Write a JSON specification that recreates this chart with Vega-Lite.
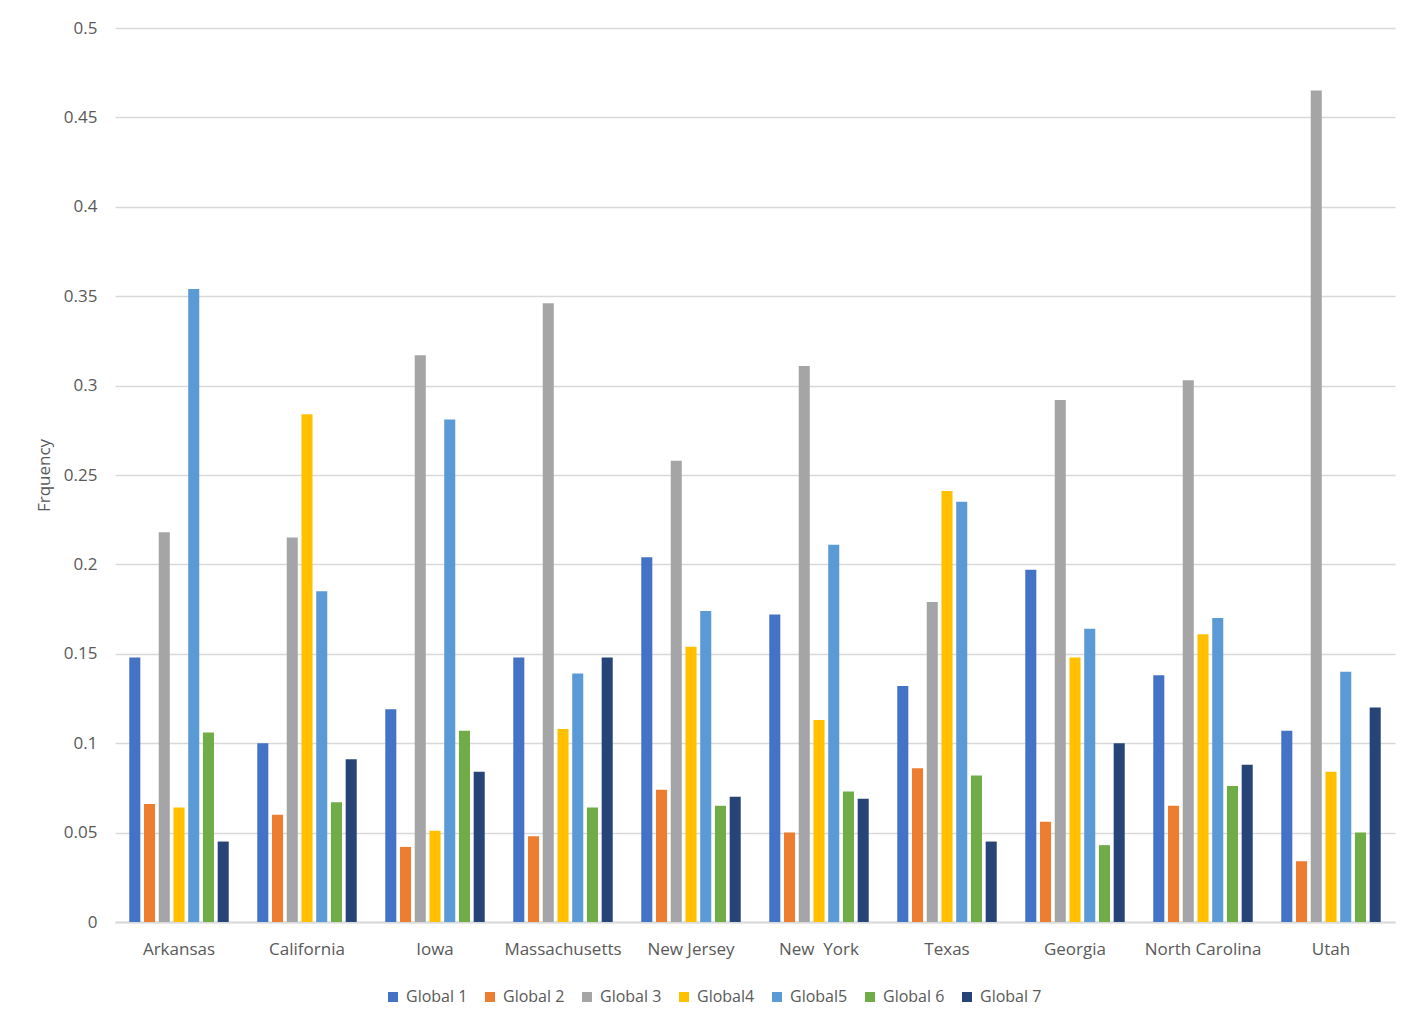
{
  "$schema": "https://vega.github.io/schema/vega-lite/v6.json",
  "width": 1280,
  "height": 894,
  "autosize": {"type": "none"},
  "padding": {"left": 115, "top": 28, "right": 28, "bottom": 110},
  "background": "white",
  "config": {
    "view": {"stroke": null},
    "font": "Open Sans",
    "axis": {"labelFont": "Open Sans", "titleFont": "Open Sans", "labelColor": "#595959", "titleColor": "#595959"}
  },
  "datasets": {
    "freq": [
      {"state": "Arkansas", "series": "Global 1", "value": 0.148},
      {"state": "Arkansas", "series": "Global 2", "value": 0.066},
      {"state": "Arkansas", "series": "Global 3", "value": 0.218},
      {"state": "Arkansas", "series": "Global4", "value": 0.064},
      {"state": "Arkansas", "series": "Global5", "value": 0.354},
      {"state": "Arkansas", "series": "Global 6", "value": 0.106},
      {"state": "Arkansas", "series": "Global 7", "value": 0.045},
      {"state": "California", "series": "Global 1", "value": 0.100},
      {"state": "California", "series": "Global 2", "value": 0.060},
      {"state": "California", "series": "Global 3", "value": 0.215},
      {"state": "California", "series": "Global4", "value": 0.284},
      {"state": "California", "series": "Global5", "value": 0.185},
      {"state": "California", "series": "Global 6", "value": 0.067},
      {"state": "California", "series": "Global 7", "value": 0.091},
      {"state": "Iowa", "series": "Global 1", "value": 0.119},
      {"state": "Iowa", "series": "Global 2", "value": 0.042},
      {"state": "Iowa", "series": "Global 3", "value": 0.317},
      {"state": "Iowa", "series": "Global4", "value": 0.051},
      {"state": "Iowa", "series": "Global5", "value": 0.281},
      {"state": "Iowa", "series": "Global 6", "value": 0.107},
      {"state": "Iowa", "series": "Global 7", "value": 0.084},
      {"state": "Massachusetts", "series": "Global 1", "value": 0.148},
      {"state": "Massachusetts", "series": "Global 2", "value": 0.048},
      {"state": "Massachusetts", "series": "Global 3", "value": 0.346},
      {"state": "Massachusetts", "series": "Global4", "value": 0.108},
      {"state": "Massachusetts", "series": "Global5", "value": 0.139},
      {"state": "Massachusetts", "series": "Global 6", "value": 0.064},
      {"state": "Massachusetts", "series": "Global 7", "value": 0.148},
      {"state": "New Jersey", "series": "Global 1", "value": 0.204},
      {"state": "New Jersey", "series": "Global 2", "value": 0.074},
      {"state": "New Jersey", "series": "Global 3", "value": 0.258},
      {"state": "New Jersey", "series": "Global4", "value": 0.154},
      {"state": "New Jersey", "series": "Global5", "value": 0.174},
      {"state": "New Jersey", "series": "Global 6", "value": 0.065},
      {"state": "New Jersey", "series": "Global 7", "value": 0.070},
      {"state": "New \u00a0York", "series": "Global 1", "value": 0.172},
      {"state": "New \u00a0York", "series": "Global 2", "value": 0.050},
      {"state": "New \u00a0York", "series": "Global 3", "value": 0.311},
      {"state": "New \u00a0York", "series": "Global4", "value": 0.113},
      {"state": "New \u00a0York", "series": "Global5", "value": 0.211},
      {"state": "New \u00a0York", "series": "Global 6", "value": 0.073},
      {"state": "New \u00a0York", "series": "Global 7", "value": 0.069},
      {"state": "Texas", "series": "Global 1", "value": 0.132},
      {"state": "Texas", "series": "Global 2", "value": 0.086},
      {"state": "Texas", "series": "Global 3", "value": 0.179},
      {"state": "Texas", "series": "Global4", "value": 0.241},
      {"state": "Texas", "series": "Global5", "value": 0.235},
      {"state": "Texas", "series": "Global 6", "value": 0.082},
      {"state": "Texas", "series": "Global 7", "value": 0.045},
      {"state": "Georgia", "series": "Global 1", "value": 0.197},
      {"state": "Georgia", "series": "Global 2", "value": 0.056},
      {"state": "Georgia", "series": "Global 3", "value": 0.292},
      {"state": "Georgia", "series": "Global4", "value": 0.148},
      {"state": "Georgia", "series": "Global5", "value": 0.164},
      {"state": "Georgia", "series": "Global 6", "value": 0.043},
      {"state": "Georgia", "series": "Global 7", "value": 0.100},
      {"state": "North Carolina", "series": "Global 1", "value": 0.138},
      {"state": "North Carolina", "series": "Global 2", "value": 0.065},
      {"state": "North Carolina", "series": "Global 3", "value": 0.303},
      {"state": "North Carolina", "series": "Global4", "value": 0.161},
      {"state": "North Carolina", "series": "Global5", "value": 0.170},
      {"state": "North Carolina", "series": "Global 6", "value": 0.076},
      {"state": "North Carolina", "series": "Global 7", "value": 0.088},
      {"state": "Utah", "series": "Global 1", "value": 0.107},
      {"state": "Utah", "series": "Global 2", "value": 0.034},
      {"state": "Utah", "series": "Global 3", "value": 0.465},
      {"state": "Utah", "series": "Global4", "value": 0.084},
      {"state": "Utah", "series": "Global5", "value": 0.140},
      {"state": "Utah", "series": "Global 6", "value": 0.050},
      {"state": "Utah", "series": "Global 7", "value": 0.120}
    ]
  },
  "data": {"name": "freq"},
  "mark": {"type": "bar"},
  "encoding": {
    "x": {
      "field": "state",
      "type": "nominal",
      "sort": null,
      "scale": {"paddingInner": 0.2, "paddingOuter": 0.1},
      "axis": {
        "title": null,
        "labelAngle": 0,
        "ticks": false,
        "labelPadding": 19,
        "labelFontSize": 17,
        "domainColor": "#d9d9d9",
        "domainWidth": 2,
        "grid": false
      }
    },
    "xOffset": {
      "field": "series",
      "type": "nominal",
      "sort": ["Global 1", "Global 2", "Global 3", "Global4", "Global5", "Global 6", "Global 7"],
      "scale": {"paddingInner": 0.25, "paddingOuter": 0.1}
    },
    "y": {
      "field": "value",
      "type": "quantitative",
      "scale": {"domain": [0, 0.5], "nice": false},
      "axis": {
        "title": "Frquency",
        "titleFontSize": 17,
        "titleFontWeight": "normal",
        "titlePadding": 10,
        "values": [0, 0.05, 0.1, 0.15, 0.2, 0.25, 0.3, 0.35, 0.4, 0.45, 0.5],
        "format": "~g",
        "labelFontSize": 17,
        "labelPadding": 18,
        "ticks": false,
        "domain": false,
        "gridColor": "#d9d9d9",
        "gridWidth": 1.3
      }
    },
    "color": {
      "field": "series",
      "type": "nominal",
      "scale": {
        "domain": ["Global 1", "Global 2", "Global 3", "Global4", "Global5", "Global 6", "Global 7"],
        "range": ["#4472C4", "#ED7D31", "#A5A5A5", "#FFC000", "#5B9BD5", "#70AD47", "#264478"]
      },
      "legend": {
        "title": null,
        "orient": "none",
        "direction": "horizontal",
        "legendX": 270,
        "legendY": 961,
        "symbolType": "square",
        "symbolSize": 100,
        "symbolStrokeWidth": 0,
        "labelFont": "Open Sans",
        "labelFontSize": 16,
        "labelColor": "#595959",
        "labelOffset": 5,
        "columnPadding": 14
      }
    }
  }
}
